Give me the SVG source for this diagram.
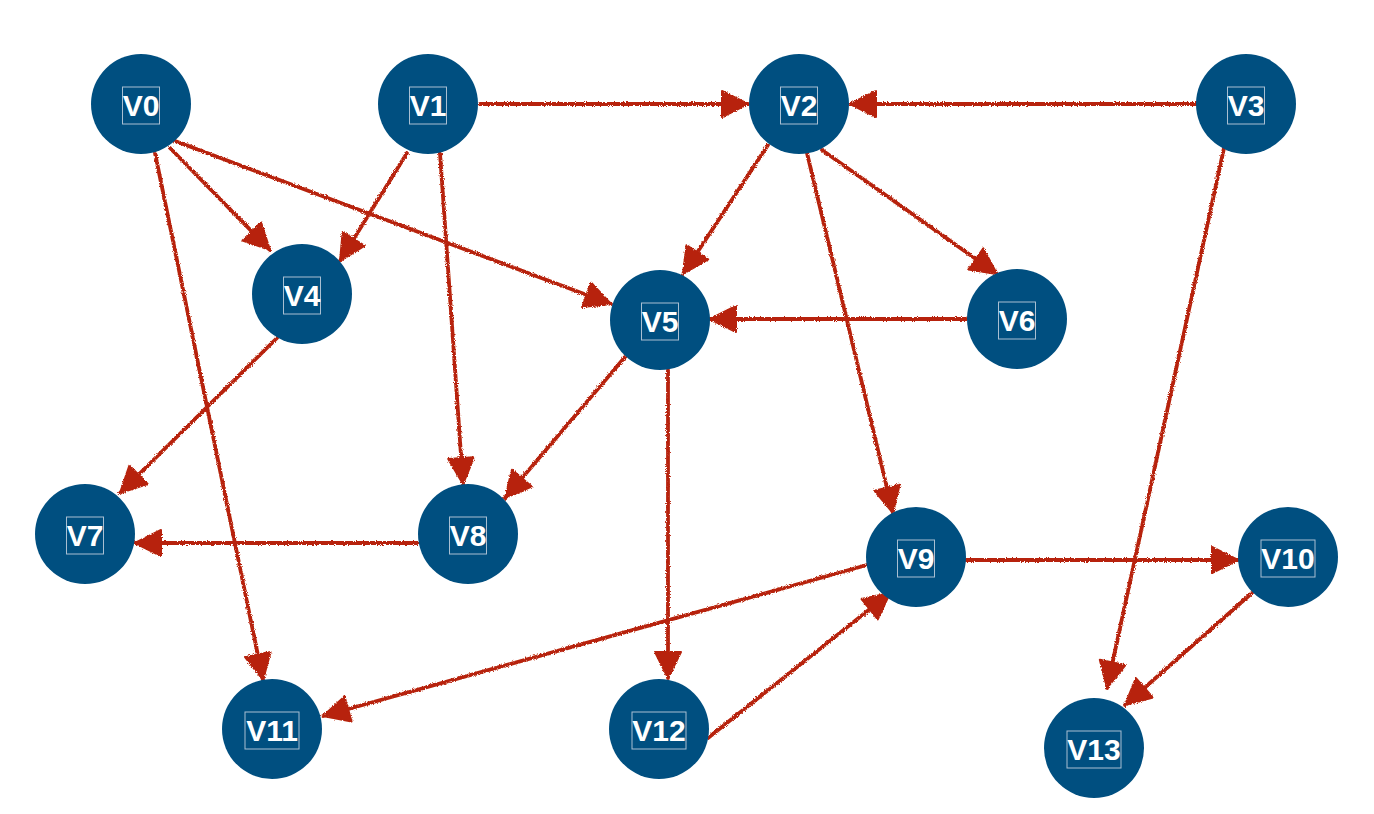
<svg xmlns="http://www.w3.org/2000/svg" width="1374" height="814" viewBox="0 0 1374 814">
<style>
.node circle{fill:#004f80}
.node text{font-family:"Liberation Sans",Arial,Helvetica,sans-serif;font-weight:bold;font-size:30px;fill:#ffffff;text-anchor:middle}
.node rect{fill:none;stroke:#a9bfd2;stroke-width:1}
.edge{fill:none;stroke:#b7230a;stroke-width:3.8;stroke-linecap:round}
</style>
<defs>
<filter id="rough" filterUnits="userSpaceOnUse" x="0" y="0" width="1374" height="814">
<feTurbulence type="fractalNoise" baseFrequency="0.9" numOctaves="2" seed="3" result="n"/>
<feDisplacementMap in="SourceGraphic" in2="n" scale="3.2" xChannelSelector="R" yChannelSelector="G"/>
</filter>
<marker id="arr" markerUnits="userSpaceOnUse" markerWidth="32" markerHeight="32" viewBox="0 0 32 32" refX="29" refY="16" orient="auto">
<path d="M3,3 L29,16 L3,29 Z" fill="#b7230a" stroke="#b7230a" stroke-width="2" stroke-linejoin="round"/>
</marker>
</defs>
<rect width="1374" height="814" fill="#ffffff"/>
<g id="connectors" filter="url(#rough)">
<path class="edge" marker-end="url(#arr)" d="M170,148 L270,250"/>
<path class="edge" marker-end="url(#arr)" d="M175,141 L611,304"/>
<path class="edge" marker-end="url(#arr)" d="M155,153 L263,680"/>
<path class="edge" marker-end="url(#arr)" d="M480,104 L748,104"/>
<path class="edge" marker-end="url(#arr)" d="M407,153 L340,261"/>
<path class="edge" marker-end="url(#arr)" d="M440,153 L463,484"/>
<path class="edge" marker-end="url(#arr)" d="M768,145 L683,274"/>
<path class="edge" marker-end="url(#arr)" d="M822,150 L997,274"/>
<path class="edge" marker-end="url(#arr)" d="M807,153 L893,513"/>
<path class="edge" marker-end="url(#arr)" d="M1196,104 L850,104"/>
<path class="edge" marker-end="url(#arr)" d="M1224,148 L1107,688"/>
<path class="edge" marker-end="url(#arr)" d="M277,338 L120,493"/>
<path class="edge" marker-end="url(#arr)" d="M625,357 L505,498"/>
<path class="edge" marker-end="url(#arr)" d="M668,370 L668,678"/>
<path class="edge" marker-end="url(#arr)" d="M966,319 L710,319"/>
<path class="edge" marker-end="url(#arr)" d="M418,543 L135,543"/>
<path class="edge" marker-end="url(#arr)" d="M966,560 L1238,560"/>
<path class="edge" marker-end="url(#arr)" d="M867,565 L323,716"/>
<path class="edge" marker-end="url(#arr)" d="M1252,593 L1125,705"/>
<path class="edge" marker-end="url(#arr)" d="M708,738 L890,593"/>
</g>
<g id="V0" class="node"><circle cx="141" cy="104" r="50"/><rect x="122.5" y="87" width="37" height="37"/><text x="141" y="116">V0</text></g>
<g id="V1" class="node"><circle cx="428" cy="104" r="50"/><rect x="409.5" y="87" width="37" height="37"/><text x="428" y="116">V1</text></g>
<g id="V2" class="node"><circle cx="799" cy="104" r="50"/><rect x="780.5" y="87" width="37" height="37"/><text x="799" y="116">V2</text></g>
<g id="V3" class="node"><circle cx="1246" cy="104" r="50"/><rect x="1227.5" y="87" width="37" height="37"/><text x="1246" y="116">V3</text></g>
<g id="V4" class="node"><circle cx="302" cy="294" r="50"/><rect x="283.5" y="277" width="37" height="37"/><text x="302" y="306">V4</text></g>
<g id="V5" class="node"><circle cx="660" cy="320" r="50"/><rect x="641.5" y="303" width="37" height="37"/><text x="660" y="332">V5</text></g>
<g id="V6" class="node"><circle cx="1017" cy="319" r="50"/><rect x="998.5" y="302" width="37" height="37"/><text x="1017" y="331">V6</text></g>
<g id="V7" class="node"><circle cx="85" cy="534" r="50"/><rect x="66.5" y="517" width="37" height="37"/><text x="85" y="546">V7</text></g>
<g id="V8" class="node"><circle cx="468" cy="534" r="50"/><rect x="449.5" y="517" width="37" height="37"/><text x="468" y="546">V8</text></g>
<g id="V9" class="node"><circle cx="916" cy="557" r="50"/><rect x="897.5" y="540" width="37" height="37"/><text x="916" y="569">V9</text></g>
<g id="V10" class="node"><circle cx="1288" cy="557" r="50"/><rect x="1261" y="540" width="54" height="37"/><text x="1288" y="569">V10</text></g>
<g id="V11" class="node"><circle cx="272" cy="729" r="50"/><rect x="245" y="712" width="54" height="37"/><text x="272" y="741">V11</text></g>
<g id="V12" class="node"><circle cx="659" cy="729" r="50"/><rect x="632" y="712" width="54" height="37"/><text x="659" y="741">V12</text></g>
<g id="V13" class="node"><circle cx="1094" cy="748" r="50"/><rect x="1067" y="731" width="54" height="37"/><text x="1094" y="760">V13</text></g>
</svg>
